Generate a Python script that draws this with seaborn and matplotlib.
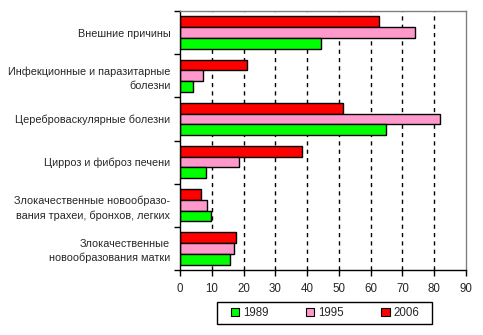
import matplotlib
matplotlib.use("Agg")
import matplotlib.pyplot as plt
import seaborn as sns
import pandas as pd
import numpy as np
from matplotlib.patches import Patch, Rectangle

categories = [
    "Внешние причины",
    "Инфекционные и паразитарные\nболезни",
    "Цереброваскулярные болезни",
    "Цирроз и фиброз печени",
    "Злокачественные новообразо-\nвания трахеи, бронхов, легких",
    "Злокачественные\nновообразования матки",
]
years = ["1989", "1995", "2006"]
v1989 = [44.4, 4.2, 64.9, 8.3, 9.9, 15.8]
v1995 = [74.0, 7.3, 81.9, 18.7, 8.6, 17.1]
v2006 = [62.7, 21.2, 51.4, 38.5, 6.7, 17.7]
colors = {"1989": "#00FF00", "1995": "#FF99CC", "2006": "#FF0000"}

rows = []
for yr, vals in zip(years, [v1989, v1995, v2006]):
    for c, v in zip(categories, vals):
        rows.append({"cat": c, "year": yr, "val": v})
df = pd.DataFrame(rows)

sns.set_theme(style="white")
plt.rcParams["font.family"] = ["Liberation Sans", "DejaVu Sans"]

fig = plt.figure(figsize=(4.83, 3.35), dpi=100)
ax = fig.add_axes([180/483, 1-270/335, (466-180)/483, (270-11)/335])

sns.barplot(data=df, y="cat", x="val", hue="year", order=categories,
            hue_order=["2006", "1995", "1989"], palette=colors,
            orient="h", width=0.75, edgecolor="black", linewidth=1.0,
            errorbar=None, ax=ax, legend=False, saturation=1)

ax.set_xlim(0, 90)
ax.set_ylim(len(categories)-0.5, -0.5)
ax.set_xticks(np.arange(0, 91, 10))
ax.set_xticklabels([str(t) for t in range(0, 91, 10)], fontsize=8.3)
ax.set_xlabel("")
ax.set_ylabel("")

# category labels at centers, tick marks at boundaries
ax.set_yticks(np.arange(-0.5, len(categories)), minor=False)
ax.set_yticklabels([""] * (len(categories)+1))
ax.set_yticks(np.arange(len(categories)), minor=True)
ax.set_yticklabels(categories, minor=True, fontsize=7.8, linespacing=1.45)
ax.tick_params(axis="y", which="minor", length=0, pad=7)
ax.tick_params(axis="y", which="major", length=4, width=1, direction="out", color="black", left=True)
ax.tick_params(axis="x", which="major", length=4, width=1, direction="out", color="black", bottom=True, pad=5)

for x in range(10, 90, 10):
    ax.axvline(x, color="black", linestyle=(0, (3, 3)), linewidth=1, zorder=0.5)

for side in ["left", "bottom"]:
    ax.spines[side].set_color("black")
    ax.spines[side].set_linewidth(1)
for side in ["top", "right"]:
    ax.spines[side].set_color("#808080")
    ax.spines[side].set_linewidth(1)

# legend frame
W, H = 483, 335
fig.add_artist(Rectangle((217/W, 1-324/H), (432-217)/W, (324-302)/H,
                         transform=fig.transFigure, facecolor="white",
                         edgecolor="black", linewidth=1, zorder=1))
handles = [Patch(facecolor=colors[y], edgecolor="black", linewidth=0.8) for y in years]
leg = fig.legend(handles, years, loc="center", bbox_to_anchor=(325/W, 1-313/H),
                 ncol=3, frameon=False, fontsize=8.3, handlelength=0.7, handleheight=0.7,
                 handletextpad=0.3, columnspacing=3.3, borderpad=0.2)
leg.set_zorder(2)

fig.savefig("out.png", dpi=100)
